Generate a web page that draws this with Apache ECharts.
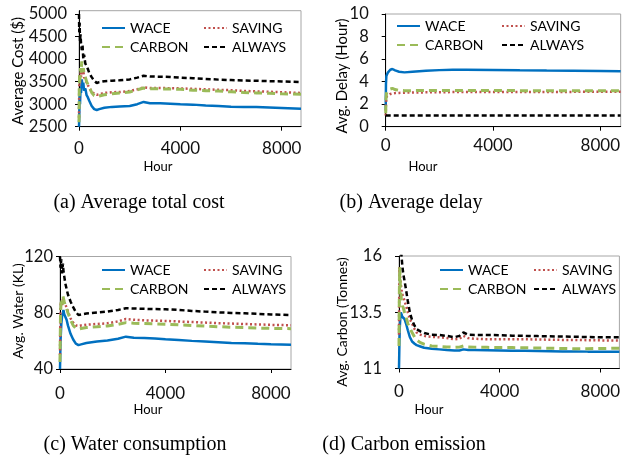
<!DOCTYPE html>
<html>
<head>
<meta charset="utf-8">
<script src="https://cdn.jsdelivr.net/npm/echarts@6/dist/echarts.min.js"></script>
<style>
html,body{margin:0;padding:0;background:#fff;}
#chart{width:623px;height:458px;}
</style>
</head>
<body>
<div id="chart"></div>
<script>
// ---------- DATA ----------
var seriesNames = ['WACE', 'SAVING', 'CARBON', 'ALWAYS'];
var xTicks = [0, 4000, 8000];

// (a) Average total cost
var costHours = [0, 10, 25, 40, 60, 80, 110, 140, 170, 200, 250, 300, 350, 400, 500, 600, 700, 800, 1000, 1300, 1600, 2000, 2300, 2550, 2800, 3200, 3600, 4000, 4500, 5000, 5500, 6000, 6500, 7000, 7500, 8000, 8760];
var costWace = [2500, 2700, 3200, 3000, 3350, 3250, 3550, 3400, 3480, 3300, 3350, 3200, 3150, 3080, 2960, 2890, 2870, 2890, 2920, 2940, 2950, 2960, 3000, 3050, 3020, 3020, 3010, 3000, 2990, 2970, 2960, 2945, 2940, 2935, 2925, 2915, 2900];
var costSaving = [2700, 3500, 3650, 3450, 3700, 3600, 3800, 3650, 3750, 3600, 3550, 3480, 3420, 3380, 3280, 3230, 3210, 3220, 3250, 3265, 3270, 3290, 3330, 3375, 3360, 3360, 3355, 3350, 3340, 3330, 3320, 3310, 3295, 3285, 3275, 3265, 3250];
var costCarbon = [2600, 3300, 3700, 3550, 3800, 3700, 3950, 3750, 3800, 3650, 3600, 3500, 3440, 3380, 3260, 3190, 3170, 3180, 3210, 3230, 3250, 3270, 3320, 3360, 3340, 3340, 3335, 3330, 3310, 3300, 3290, 3275, 3260, 3250, 3240, 3230, 3220];
var costAlways = [5000, 4600, 4800, 4400, 4550, 4350, 4200, 4300, 4000, 4100, 3900, 3850, 3780, 3700, 3600, 3520, 3470, 3490, 3510, 3520, 3530, 3550, 3590, 3630, 3615, 3610, 3605, 3590, 3575, 3560, 3545, 3535, 3525, 3520, 3510, 3505, 3490];
var costTicks = [2500, 3000, 3500, 4000, 4500, 5000];

// (b) Average delay
var delayHours = [0, 10, 25, 50, 80, 120, 170, 250, 350, 500, 700, 1000, 1500, 2000, 2500, 3000, 4000, 5000, 6000, 7000, 8000, 8760];
var delayWace = [1.5, 3.8, 4.5, 4.6, 4.8, 4.95, 5.05, 5.12, 5.0, 4.88, 4.82, 4.88, 4.96, 5.02, 5.06, 5.05, 5.03, 5.0, 4.98, 4.97, 4.95, 4.93];
var delaySaving = [1.0, 2.0, 2.5, 2.7, 2.8, 2.85, 2.9, 2.95, 2.98, 3.0, 3.02, 3.03, 3.05, 3.06, 3.07, 3.07, 3.08, 3.08, 3.09, 3.09, 3.1, 3.1];
var delayCarbon = [1.2, 2.5, 2.9, 3.1, 3.2, 3.3, 3.35, 3.4, 3.3, 3.22, 3.2, 3.2, 3.21, 3.22, 3.22, 3.22, 3.21, 3.2, 3.2, 3.2, 3.2, 3.2];
var delayAlways = [1, 1, 1, 1, 1, 1, 1, 1, 1, 1, 1, 1, 1, 1, 1, 1, 1, 1, 1, 1, 1, 1];
var delayTicks = [0, 2, 4, 6, 8, 10];

// (c) Water consumption
var waterHours = [0, 20, 50, 80, 110, 130, 160, 200, 250, 300, 400, 500, 600, 700, 800, 1000, 1400, 1800, 2200, 2500, 2800, 3200, 3600, 4000, 4500, 5000, 5500, 6000, 6500, 7000, 7500, 8000, 8760];
var waterWace = [40, 60, 72, 78, 80, 82, 79, 78, 75, 71, 65, 61, 58, 57, 57.5, 58.5, 59.5, 60.2, 61.5, 63, 62.3, 62, 61.7, 61.2, 60.6, 60, 59.5, 59, 58.5, 58.3, 57.9, 57.6, 57.3];
var waterSaving = [50, 85, 88, 85, 90, 89, 87, 86, 84, 81, 76, 73, 71, 70.6, 71, 71.5, 72, 72.5, 73.8, 75.6, 75, 74.6, 74.4, 74.2, 73.8, 73.4, 73, 72.6, 72.3, 72, 71.7, 71.4, 71.1];
var waterCarbon = [45, 80, 90, 86, 92, 91, 88, 85, 83, 80, 75, 71, 69, 68.3, 68.8, 69.5, 70, 70.6, 71.8, 73, 72.6, 72.3, 72.1, 71.9, 71.4, 70.9, 70.5, 70.1, 69.7, 69.4, 69.1, 68.9, 68.7];
var waterAlways = [120, 112, 118, 108, 115, 110, 106, 101, 97, 93, 88, 84, 80.5, 78.4, 78.8, 79.5, 80.2, 80.8, 82, 83.2, 83, 82.8, 82.6, 82.5, 82, 81.3, 80.8, 80.3, 79.9, 79.6, 79.2, 78.8, 78.4];
var waterTicks = [40, 80, 120];

// (d) Carbon emission
var carbonHours = [0, 15, 30, 50, 75, 100, 130, 170, 220, 280, 350, 430, 520, 620, 700, 850, 1000, 1300, 1600, 1900, 2200, 2400, 2560, 2750, 3000, 3500, 4000, 4500, 5000, 5500, 6000, 6500, 7000, 7500, 8000, 8760];
var carbonWace = [11, 12, 12.8, 13.2, 13.5, 13.4, 13.3, 13.35, 13.2, 13.0, 12.7, 12.4, 12.2, 12.1, 12.04, 11.98, 11.92, 11.88, 11.85, 11.82, 11.8, 11.8, 11.85, 11.82, 11.82, 11.81, 11.8, 11.79, 11.79, 11.78, 11.77, 11.76, 11.76, 11.75, 11.75, 11.75];
var carbonSaving = [12.5, 15.5, 15.2, 15.0, 14.7, 14.5, 14.3, 14.2, 14.0, 13.8, 13.5, 13.2, 13.0, 12.75, 12.6, 12.5, 12.45, 12.4, 12.39, 12.35, 12.3, 12.32, 12.45, 12.35, 12.32, 12.3, 12.3, 12.3, 12.3, 12.29, 12.28, 12.27, 12.27, 12.26, 12.25, 12.24];
var carbonCarbon = [12, 14.5, 15.5, 14.8, 14.3, 14.0, 13.8, 13.7, 13.5, 13.3, 13.0, 12.8, 12.6, 12.4, 12.27, 12.15, 12.08, 12.0, 11.98, 11.96, 11.94, 11.95, 12.0, 11.96, 11.95, 11.94, 11.93, 11.93, 11.92, 11.91, 11.9, 11.89, 11.88, 11.88, 11.89, 11.9];
var carbonAlways = [16.5, 16.5, 16.3, 16.5, 16.2, 16.0, 15.6, 15.2, 14.9, 14.5, 14.0, 13.5, 13.15, 12.9, 12.75, 12.65, 12.58, 12.5, 12.49, 12.45, 12.39, 12.45, 12.6, 12.5, 12.49, 12.49, 12.48, 12.46, 12.45, 12.44, 12.43, 12.42, 12.41, 12.4, 12.39, 12.39];
var carbonTicks = [11, 13.5, 16];

// ---------- STYLE ----------
var FONT = 'Lato';
var styles = {
  WACE:   {color: '#0070C0', width: 2.5, type: 'solid'},
  SAVING: {color: '#C0504D', width: 2.5, type: [2, 2.5]},
  CARBON: {color: '#9BBB59', width: 3,   type: [8, 5]},
  ALWAYS: {color: '#000000', width: 2.5, type: [5, 3]}
};

var panels = [
  {hours: costHours, vals: [costWace, costSaving, costCarbon, costAlways], ticks: costTicks,
   grid: {left: 79, top: 10.7, width: 222, height: 116}, ymin: 2500, ymax: 5075, yint: 500, ymargin: 12, xmargin: 13,
   legendTop: 21, legendLeft: [101, 203]},
  {hours: delayHours, vals: [delayWace, delaySaving, delayCarbon, delayAlways], ticks: delayTicks,
   grid: {left: 385.7, top: 14, width: 239.4, height: 112.7}, ymin: 0, ymax: 10, yint: 2, ymargin: 17, xmargin: 10,
   legendTop: 19, legendLeft: [396, 501]},
  {hours: waterHours, vals: [waterWace, waterSaving, waterCarbon, waterAlways], ticks: waterTicks,
   grid: {left: 60, top: 256.5, width: 231, height: 112.5}, ymin: 40, ymax: 120, yint: 40, ymargin: 7, xmargin: 16,
   legendTop: 263, legendLeft: [101, 203]},
  {hours: carbonHours, vals: [carbonWace, carbonSaving, carbonCarbon, carbonAlways], ticks: carbonTicks,
   grid: {left: 399, top: 256, width: 226, height: 112.5}, ymin: 11, ymax: 16, yint: 2.5, ymargin: 17, xmargin: 15,
   legendTop: 263, legendLeft: [439, 533]}
];

var grids = [], xAxes = [], yAxes = [], series = [], legends = [];
panels.forEach(function (p, i) {
  grids.push(Object.assign({show: true, borderColor: '#a6a6a6', borderWidth: 1, backgroundColor: 'transparent'}, p.grid));
  xAxes.push({
    type: 'value', gridIndex: i, min: 0, max: 8760, interval: 4000,
    axisLine: {lineStyle: {color: '#000', width: 1}},
    axisTick: {show: true, length: 4, customValues: xTicks, lineStyle: {color: '#000'}},
    axisLabel: {customValues: xTicks, margin: p.xmargin, fontFamily: FONT, fontSize: 17, color: '#111',
      formatter: function (v) { return v % 4000 === 0 ? String(v) : ''; }},
    splitLine: {show: false}
  });
  yAxes.push({
    type: 'value', gridIndex: i, min: p.ymin, max: p.ymax, interval: p.yint,
    axisLine: {show: true, lineStyle: {color: '#000', width: 1}},
    axisTick: {show: true, length: 4, customValues: p.ticks, lineStyle: {color: '#000'}},
    axisLabel: {customValues: p.ticks, margin: p.ymargin, fontFamily: FONT, fontSize: 16.5, color: '#111',
      formatter: function (v) { return p.ticks.indexOf(v) >= 0 ? String(v) : ''; }},
    splitLine: {show: false}
  });
  seriesNames.forEach(function (name, k) {
    var st = styles[name];
    series.push({
      name: name, type: 'line', xAxisIndex: i, yAxisIndex: i,
      data: p.hours.map(function (h, j) { return [h, p.vals[k][j]]; }),
      symbol: 'none', showSymbol: false, smooth: false, clip: true,
      lineStyle: {color: st.color, width: st.width, type: st.type},
      itemStyle: {color: st.color},
      z: 2 + k
    });
  });
  [['WACE', 'CARBON'], ['SAVING', 'ALWAYS']].forEach(function (col, c) {
    legends.push({
      orient: 'vertical', left: p.legendLeft[c], top: p.legendTop, padding: 0,
      itemWidth: 23, itemHeight: 14, itemGap: 5,
      data: col, selectedMode: false,
      itemStyle: {color: 'rgba(0,0,0,0)', borderColor: 'rgba(0,0,0,0)', borderWidth: 0, opacity: 0},
      textStyle: {fontFamily: FONT, fontSize: 14, color: '#000', lineHeight: 14}
    });
  });
});

function txt(x, y, text, size, family, rot) {
  return {type: 'text', x: x, y: y, rotation: rot || 0,
    style: {text: text, fontSize: size, fontFamily: family, fill: '#000', textAlign: 'center', textVerticalAlign: 'middle'}};
}
var SERIF = '"Liberation Serif", serif';
var graphics = [
  txt(18, 71, 'Average Cost ($)', 15, FONT, Math.PI / 2),
  txt(342, 76, 'Avg. Delay (Hour)', 15, FONT, Math.PI / 2),
  txt(18, 311, 'Avg. Water (KL)', 14, FONT, Math.PI / 2),
  txt(342, 322, 'Avg. Carbon (Tonnes)', 14, FONT, Math.PI / 2),
  txt(158, 167, 'Hour', 13, FONT),
  txt(423, 167, 'Hour', 13, FONT),
  txt(148, 410, 'Hour', 13, FONT),
  txt(429, 410, 'Hour', 13, FONT),
  txt(139, 203, '(a) Average total cost', 20, SERIF),
  txt(411, 203, '(b) Average delay', 20, SERIF),
  txt(135, 445, '(c) Water consumption', 20, SERIF),
  txt(404, 445, '(d) Carbon emission', 20, SERIF)
];

var chart = echarts.init(document.getElementById('chart'), null, {renderer: 'canvas'});
chart.setOption({
  animation: false,
  backgroundColor: '#fff',
  grid: grids, xAxis: xAxes, yAxis: yAxes, series: series, legend: legends,
  graphic: graphics
});
</script>
</body>
</html>
